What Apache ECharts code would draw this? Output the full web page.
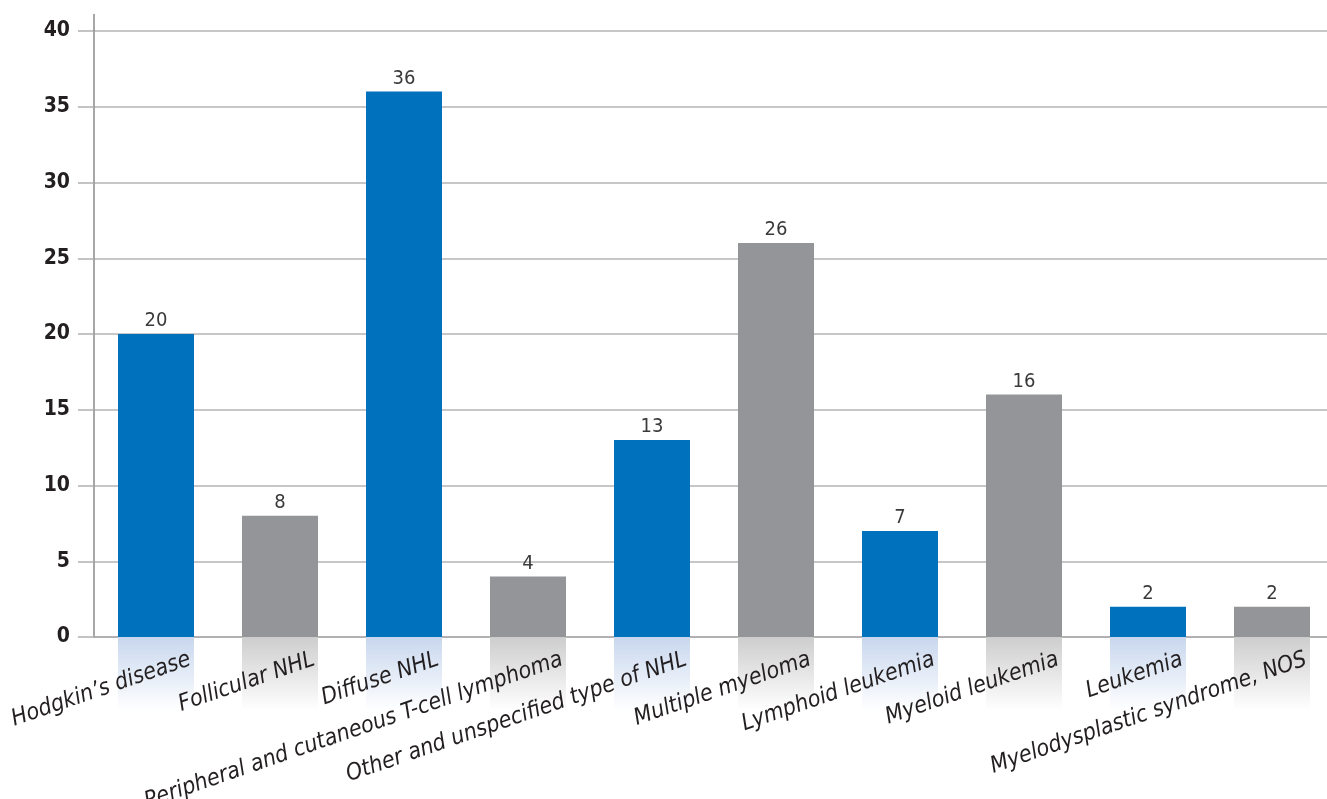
<!DOCTYPE html>
<html>
<head>
<meta charset="utf-8">
<script src="https://cdn.jsdelivr.net/npm/echarts@6/dist/echarts.min.js"></script>
<style>html,body{margin:0;padding:0;background:#fff;}#chart{width:1327px;height:799px;}</style>
</head>
<body>
<div id="chart"></div>
<script>
const categories = [
  "Hodgkin\u2019s disease",
  "Follicular NHL",
  "Diffuse NHL",
  "Peripheral and cutaneous T-cell lymphoma",
  "Other and unspecified type of NHL",
  "Multiple myeloma",
  "Lymphoid leukemia",
  "Myeloid leukemia",
  "Leukemia",
  "Myelodysplastic syndrome, NOS"
];
const values = [20, 8, 36, 4, 13, 26, 7, 16, 2, 2];
const reflectionValues = [1, 1, 1, 1, 1, 1, 1, 1, 1, 1];
const yTicks = { min: 0, max: 40, interval: 5 };

const BLUE = '#0071bc', GRAY = '#939598';
const FONT = "'Liberation Sans Narrow', 'DejaVu Sans Condensed', 'Liberation Sans', sans-serif";

const chart = echarts.init(document.getElementById('chart'), null, { renderer: 'canvas' });

const option = {
  animation: false,
  backgroundColor: '#ffffff',
  grid: [
    { left: 94, width: 1240, top: 31, height: 606, containLabel: false, outerBoundsMode: 'none' },
    { left: 94, width: 1240, top: 637, height: 73, containLabel: false, outerBoundsMode: 'none' },
    { left: 128, width: 1240, top: 637, height: 2, containLabel: false, outerBoundsMode: 'none' }
  ],
  xAxis: [
    {
      gridIndex: 0, type: 'category', data: categories,
      axisLine: { show: true, lineStyle: { color: '#aaaaaa', width: 1.5 } },
      axisTick: { show: false }, axisLabel: { show: false }
    },
    {
      gridIndex: 1, type: 'category', data: categories, show: false
    },
    {
      gridIndex: 2, type: 'category', data: categories, z: 10,
      axisLine: { show: false }, axisTick: { show: false },
      axisLabel: {
        show: true, interval: 0, rotate: 19, margin: 20,
        fontFamily: FONT, fontStyle: 'italic', fontSize: 23, color: '#231f20'
      }
    }
  ],
  yAxis: [
    {
      gridIndex: 0, type: 'value', min: yTicks.min, max: yTicks.max, interval: yTicks.interval,
      axisLine: { show: true, lineStyle: { color: '#8a8a8a', width: 1.5 } },
      axisTick: { show: true, length: 16, lineStyle: { color: '#b0b0b0', width: 1.5 } },
      splitLine: { show: true, lineStyle: { color: '#b5b5b5', width: 1.5 } },
      axisLabel: { margin: 24, fontFamily: FONT, fontWeight: 'bold', fontSize: 21, color: '#231f20' }
    },
    { gridIndex: 1, type: 'value', min: 0, max: 1, inverse: true, show: false },
    { gridIndex: 2, type: 'value', min: 0, max: 1, show: false }
  ],
  series: [
    {
      type: 'bar', xAxisIndex: 1, yAxisIndex: 1, data: reflectionValues, barWidth: 76, z: 1,
      silent: true,
      itemStyle: {
        color: function (p) {
          const top = p.dataIndex % 2 === 0 ? '#c8d7ee' : '#cdcdce';
          return new echarts.graphic.LinearGradient(0, 0, 0, 1, [
            { offset: 0, color: top }, { offset: 1, color: '#ffffff' }
          ]);
        }
      }
    },
    {
      type: 'bar', xAxisIndex: 0, yAxisIndex: 0, data: values, barWidth: 76, z: 3,
      itemStyle: { color: function (p) { return p.dataIndex % 2 === 0 ? BLUE : GRAY; } },
      label: {
        show: true, position: 'top', distance: 3,
        fontFamily: FONT, fontSize: 20, color: '#3a3a3a'
      }
    }
  ]
};
chart.setOption(option);

// extend the y axis line above the top gridline, as in the reference
const gridRect = chart.getModel().getComponent('grid', 0).coordinateSystem.getRect();
chart.setOption({
  graphic: [{
    type: 'line', silent: true, z: 5,
    shape: { x1: gridRect.x, y1: gridRect.y - 17, x2: gridRect.x, y2: gridRect.y },
    style: { stroke: '#8a8a8a', lineWidth: 1.5 }
  }]
});
</script>
</body>
</html>
